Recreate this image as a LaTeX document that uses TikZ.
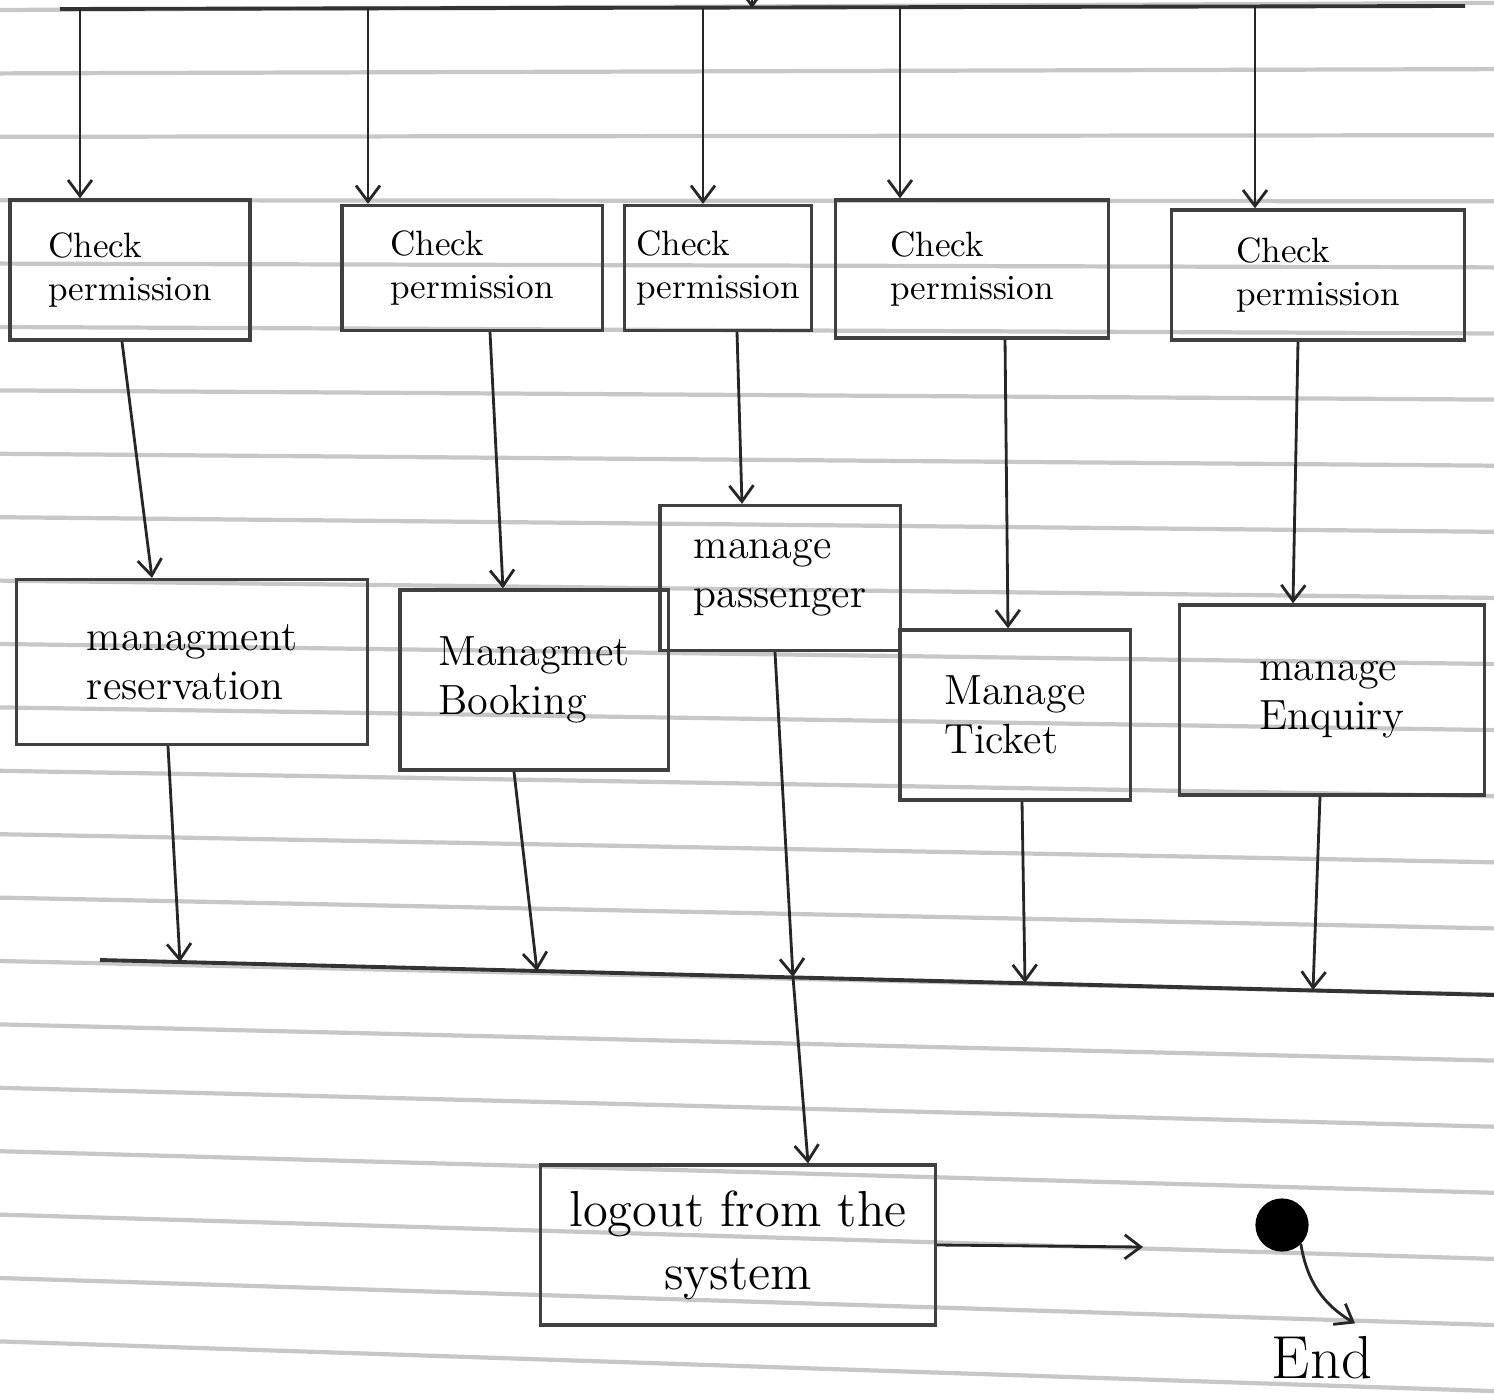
\documentclass[tikz,border=0pt]{standalone}
\usetikzlibrary{arrows.meta}
\begin{document}
\begin{tikzpicture}
  [x=0.01cm,y=-0.01cm,>={Straight Barb[length=1.6mm,width=2.4mm]},
   every node/.style={draw=black!75,line width=0.9pt,align=left,font=\large},
   check/.style={font=\normalsize},
   flow/.style={->,line width=0.8pt,black!85}]
  \useasboundingbox (0,0) rectangle (1494,1394);
  % ruled paper
  \foreach \k in {0,...,21}
    \draw[black!22,line width=1.2pt] (0,10+63.4*\k) -- (1494,3+66.1*\k);
  % fork bar at the top
  \coordinate (tl) at (60,9);
  \coordinate (tr) at (1465,6);
  \coordinate (tin) at (752,0);
  \coordinate (tbar) at (752,8);
  \coordinate (t1) at (80,9);
  \coordinate (t2) at (368,8);
  \coordinate (t3) at (703,8);
  \coordinate (t4) at (900,7);
  \coordinate (t5) at (1255,6);
  \draw[line width=1.1pt,black!80] (tl) -- (tr);
  \draw[flow] (tin) -- (tbar);
  \node (cp1)[check,minimum width=2.4cm,minimum height=1.4cm] at (130,270) {Check\\permission};
  \node (cp2)[check,minimum width=2.6cm,minimum height=1.25cm] at (472,268) {Check\\permission};
  \node (cp3)[check,minimum width=1.8cm,minimum height=1.25cm] at (718,268) {Check\\permission};
  \node (cp4)[check,minimum width=2.73cm,minimum height=1.38cm] at (972,269) {Check\\permission};
  \node (cp5)[check,minimum width=2.93cm,minimum height=1.3cm] at (1318,275) {Check\\permission};
  \foreach \t/\c in {t1/cp1,t2/cp2,t3/cp3,t4/cp4,t5/cp5}
    \draw[flow] (\t) -- (\t |- \c.north);
  % activities
  \node (mr)[minimum width=3.51cm,minimum height=1.65cm] at (192,662) {managment\\reservation};
  \node (mb)[minimum width=2.68cm,minimum height=1.8cm] at (534,680) {Managmet\\Booking};
  \node (mp)[minimum width=2.4cm,minimum height=1.45cm] at (780,578) {manage\\passenger};
  \node (mt)[minimum width=2.3cm,minimum height=1.7cm] at (1015,715) {Manage\\Ticket};
  \node (me)[minimum width=3.05cm,minimum height=1.9cm] at (1332,700) {manage\\Enquiry};
  \foreach \a/\b/\p/\q in {cp1/mr/-0.08/-0.4,cp2/mb/0.18/-0.31,cp3/mp/0.19/-0.38,cp4/mt/0.33/-0.07,cp5/me/-0.2/-0.39}
    \draw[flow] ([xshift=\p cm]\a.south) -- ([xshift=\q cm]\b.north);
  % join bar
  \coordinate (bl) at (100,960);
  \coordinate (br) at (1494,995);
  \coordinate (b1) at (180,962);
  \coordinate (b2) at (537,971);
  \coordinate (b3) at (793,977);
  \coordinate (b4) at (1025,983);
  \coordinate (b5) at (1313,990);
  \draw[line width=1.1pt,black!80] (bl) -- (br);
  \foreach \a/\p/\b in {mr/-0.24/b1,mb/-0.2/b2,mp/-0.05/b3,mt/0.07/b4,me/-0.12/b5}
    \draw[flow] ([xshift=\p cm]\a.south) -- (\b);
  % logout and end
  \node (lo)[font=\Large,align=center,minimum width=3.95cm,minimum height=1.6cm] at (738,1245) {logout from the\\system};
  \draw[flow] (b3) -- ([xshift=0.7cm]lo.north);
  \coordinate (aend) at (1143,1247);
  \draw[flow] (lo.east) -- (aend);
  \node (fin)[circle,fill=black,draw=black,inner sep=0pt,minimum size=0.5cm] at (1282,1225) {};
  \node (endtxt)[draw=none,font=\LARGE] at (1322,1358) {End};
  \draw[flow] (fin.south east) to[bend right=25] ([xshift=0.33cm]endtxt.north);
\end{tikzpicture}
\end{document}
